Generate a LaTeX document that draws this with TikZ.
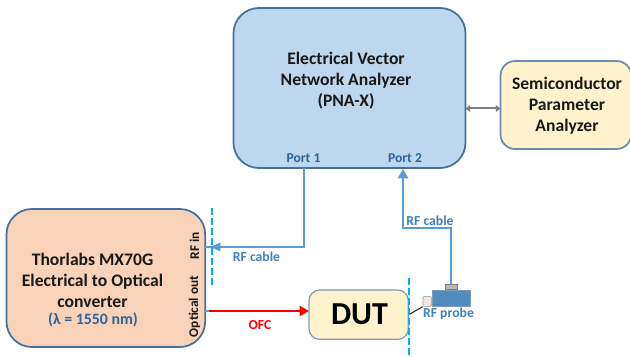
\documentclass[tikz,border=0pt]{standalone}
\usepackage{fontspec}
\setmainfont{Carlito}
\usetikzlibrary{arrows.meta}
\definecolor{edgeblue}{HTML}{41719C}
\definecolor{vnafill}{HTML}{BDD7EE}
\definecolor{creamfill}{HTML}{FFF2CC}
\definecolor{peachfill}{HTML}{F8CBAD}
\definecolor{cable}{HTML}{5B9BD5}
\definecolor{labelblue}{HTML}{4080BF}
\definecolor{portblue}{HTML}{2F6496}
\definecolor{cutline}{HTML}{00B0F0}
\definecolor{linkgray}{HTML}{7F7F7F}
\tikzset{
  x=0.75pt,y=-0.75pt,
  box/.style={draw=edgeblue,line width=1.3pt,inner sep=0pt,outer sep=0pt},
  boxtext/.style={font=\bfseries\fontsize{13.2}{15.75}\selectfont,text=black!90,align=center,inner sep=0pt},
  cableline/.style={draw=cable,line width=1.6pt},
  cut/.style={draw=cutline,line width=1.5pt,dash pattern=on 5pt off 2.5pt},
  tiplabel/.style={font=\bfseries\fontsize{10.3}{12}\selectfont,text=labelblue,inner sep=0pt},
  sidelabel/.style={font=\bfseries\fontsize{10}{12}\selectfont,text=black!90,inner sep=0pt,rotate=90},
  portlabel/.style={font=\bfseries\fontsize{10.2}{12}\selectfont,text=portblue,inner sep=0pt},
}
\begin{document}
\begin{tikzpicture}
\useasboundingbox (0,0) rectangle (630,356);
% boxes
\node[box,fill=vnafill,rounded corners=19pt,minimum width=174pt,minimum height=120pt,anchor=north west] (vna) at (233.5,8) {};
\node[boxtext] (vnatext) at (346,80.5) {Electrical Vector\\Network Analyzer\\(PNA-X)};
\node[box,fill=creamfill,rounded corners=11pt,minimum width=98pt,minimum height=66pt,anchor=north west,draw=edgeblue!80] (spa) at (500.5,61) {};
\node[boxtext] (spatext) at (567,106) {Semiconductor\\Parameter\\Analyzer};
\node[box,fill=peachfill!85!white,rounded corners=19pt,minimum width=149pt,minimum height=103.5pt,anchor=north west] (mx) at (6.5,209) {};
\node[boxtext] (mxtext) at (92.5,280) {Thorlabs MX70G\\Electrical to Optical\\converter};
\node[font=\bfseries\fontsize{11.9}{14}\selectfont,text=portblue,inner sep=0pt] (lam) at (93,320) {(λ = 1550 nm)};
\node[box,fill=creamfill,draw=edgeblue!70,line width=0.9pt,rounded corners=8pt,minimum width=74.5pt,minimum height=37pt,anchor=north west] (dut) at (309,290) {};
\node[font=\bfseries\fontsize{24}{26}\selectfont,text=black,inner sep=0pt] (duttext) at (359.5,314.5) {DUT};
% port and side labels
\node[portlabel] (p1) at (303.5,158.5) {Port 1};
\node[portlabel] (p2) at (405,158.5) {Port 2};
\node[sidelabel] (rfin) at (194.5,245.5) {RF in};
\node[sidelabel] (optout) at (194.5,306.5) {Optical out};
% cut lines
\coordinate (c1a) at (212,208);
\coordinate (c1b) at (212,286);
\coordinate (c2a) at (409,278);
\coordinate (c2b) at (409,356);
\draw[cut] (c1a) -- (c1b);
\draw[cut] (c2a) -- (c2b);
% probe
\node[draw=edgeblue!70,fill=cable!90!black,line width=0.5pt,minimum width=28.5pt,minimum height=12pt,inner sep=0pt,anchor=north west] (probe) at (432,290) {};
\node[draw=gray,fill=gray!55,line width=0.5pt,minimum width=9pt,minimum height=4pt,inner sep=0pt,anchor=south] (cap) at (451,290) {};
\node[draw=gray!80,fill=peachfill!50!white,line width=0.5pt,rounded corners=1pt,minimum width=6.5pt,minimum height=7.5pt,inner sep=0pt,anchor=north east] (tip) at (432,296) {};
\coordinate (touch) at (410,314);
\draw[black!85,line width=0.8pt] (tip.south west) -- (touch);
% connectors
\coordinate (p1out) at (304,168);
\coordinate (p2in) at (403,169);
\coordinate (bend1) at (304,247);
\coordinate (mxin) at (205,247);
\coordinate (bend2) at (403,228);
\coordinate (bend3) at (451,228);
\coordinate (mxout) at (205,311);
\draw[cableline] (p1out) -- (bend1) -- (212,247);
\draw[cable,line width=2.2pt] (mxin) -- (212,247);
\draw[draw=cable,fill=cable] (220,243) -- (211,247) -- (220,251) -- cycle;
\draw[cableline,-{Triangle[length=7pt,width=7.5pt]}] (cap.north) -- (bend3) -- (bend2) -- (p2in);
\draw[cable,line width=2.2pt] (mxout) -- (209,311);
\draw[red,line width=1.7pt,-{Triangle[length=7pt,width=7.5pt]}] (209,311) -- (dut.west |- 0,311);
\draw[linkgray,line width=1.5pt,{Triangle[length=3.5pt,width=5pt]}-{Triangle[length=3.5pt,width=5pt]}] (vna.east |- 0,108.5) -- (spa.west |- 0,108.5);
% labels
\node[tiplabel] (l1) at (256.5,256.5) {RF cable};
\node[tiplabel] (l2) at (430,221) {RF cable};
\node[tiplabel] (l3) at (448.5,314) {RF probe};
\node[font=\bfseries\fontsize{10.3}{12}\selectfont,text=red,inner sep=0pt] (ofc) at (260,325) {OFC};
\end{tikzpicture}
\end{document}
